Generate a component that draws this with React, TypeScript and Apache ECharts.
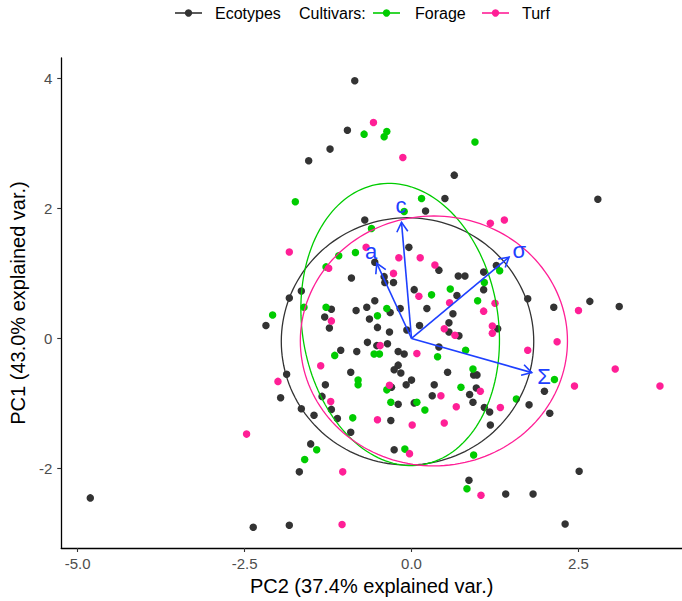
import React, { useEffect, useRef } from "react";
import * as echarts from "echarts";

const FONT = "'Liberation Sans', Arial, sans-serif";

const xTicks = [-5, -2.5, 0, 2.5];
const yTicks = [-2, 0, 2, 4];
const xRange = [-5.245, 4.05];
const yRange = [-3.22, 4.31];

const ecotypes: number[][] = [
  [-0.85, 3.96], [-0.96, 3.2], [-1.22, 2.91], [-1.54, 2.73], [-0.7, 1.82], [-0.9, 0.93], [-1.65, 0.73], [-1.83, 0.62],
  [-1.2, 0.45], [-0.83, 0.43], [-0.67, 0.48], [0.64, 2.51], [2.79, 2.14], [0.5, 2.15], [0.21, 1.96], [-0.04, 1.4],
  [0.41, 1.05], [-0.55, 1.17], [-0.41, 0.95], [-0.4, 0.86], [-0.27, 0.86], [0.7, 0.96], [0.8, 0.96], [1.08, 1.02],
  [1.27, 1.12], [1.08, 0.75], [0.68, 0.66], [0.04, 0.75], [1.74, 0.61], [2.67, 0.57], [3.11, 0.49], [2.13, 0.48],
  [-0.55, 0.58], [-0.17, 0.46], [0.23, 0.46], [-0.32, 0.4], [-0.63, 0.3], [-1.3, 0.33], [-1.23, 0.16], [-2.18, 0.2],
  [-0.66, -0.06], [-1.06, -0.18], [-0.82, -0.2], [-1.87, -0.55], [-1.29, -0.71], [-0.91, -0.52], [-1.96, -0.91],
  [-1.34, -0.89], [-1.65, -1.08], [-1.2, -1.09], [-1.46, -1.18], [-1.11, -1.23], [-0.91, -1.44], [-1.51, -1.62],
  [-1.68, -2.05], [-4.81, -2.45], [-2.37, -2.9], [-1.83, -2.87], [-0.51, 0.17], [-0.33, 0.1], [-0.07, 0.13],
  [0.12, 0.2], [0.56, 0.1], [0.71, 0.04], [-0.52, -0.11], [-0.36, -0.08], [-0.2, -0.2], [-0.11, -0.24], [0.41, -0.13],
  [-0.2, -0.41], [-0.26, -0.48], [-0.16, -0.53], [0.54, -0.52], [0.0, -0.64], [-0.08, -0.71], [-0.3, -0.75],
  [0.34, -0.71], [0.31, -0.88], [-0.2, -1.01], [0.04, -0.99], [-0.31, -1.26], [-0.26, -1.71], [0.62, 0.38],
  [0.56, 0.24], [1.29, 0.15], [0.93, -0.56], [0.98, -0.56], [0.97, -0.76], [0.87, -0.86], [0.92, -0.98], [1.09, -1.06],
  [1.17, -1.13], [1.18, -1.33], [1.76, -1.02], [1.99, -0.81], [2.07, -1.15], [0.86, -2.18], [1.41, -2.39],
  [1.82, -2.39], [2.51, -2.04], [2.3, -2.85],
];

const forage: number[][] = [
  [-0.71, 3.14], [-1.74, 2.1], [-1.09, 1.27], [-0.84, 1.32], [-1.28, 1.1], [-1.61, 0.48], [-1.28, 0.48], [-0.37, 3.18],
  [-0.41, 3.1], [0.95, 3.02], [0.15, 2.15], [-0.11, 1.95], [-0.6, 1.69], [1.32, 1.04], [1.09, 0.86], [0.58, 0.76],
  [0.3, 0.67], [0.99, 0.58], [-0.37, 0.46], [-0.51, 0.35], [-2.08, 0.36], [-1.15, -0.26], [-0.8, -0.64], [-0.8, -0.71],
  [-0.88, -1.22], [-1.42, -1.71], [-1.6, -1.86], [-0.56, -0.24], [-0.48, -0.24], [0.39, -0.28], [0.81, -0.18],
  [-0.37, -0.79], [0.74, -0.75], [-0.31, -0.98], [0.08, -0.98], [0.2, -1.1], [-0.1, -1.7], [0.92, -0.47], [1.57, -0.93],
  [2.14, -0.63], [0.93, -1.79], [0.83, -2.31],
];

const turf: number[][] = [
  [-0.57, 3.32], [-1.83, 1.33], [-0.68, 1.4], [-1.24, 1.08], [-0.13, 2.78], [1.18, 1.77], [1.39, 1.82], [-0.19, 1.24],
  [0.13, 1.24], [0.35, 1.13], [-0.27, 1.0], [0.11, 0.65], [0.57, 0.55], [1.25, 0.54], [2.5, 0.43], [1.08, 0.42],
  [-1.2, 0.27], [-1.36, -0.42], [-2.0, -0.66], [-1.21, -0.97], [-2.47, -1.47], [-1.03, -2.05], [-1.04, -2.86],
  [0.49, 0.15], [0.65, 0.05], [-0.47, -0.11], [0.08, -0.23], [-0.33, -0.72], [0.44, -0.88], [0.67, -1.05],
  [-0.51, -1.25], [0.01, -1.33], [0.49, -1.3], [-0.03, -1.77], [1.21, 0.19], [1.21, 0.08], [1.74, -0.18],
  [2.18, -0.05], [1.03, -0.81], [1.33, -1.06], [2.44, -0.73], [3.05, -0.47], [3.72, -0.73], [1.04, -2.41],
];

const groupNames = ["Ecotypes", "Forage", "Turf"];
const groupColors = ["#333333", "#00CC00", "#FF1F96"];

// ellipse parameters: center, [rx, ry] before rotation, rotation (deg, counter-clockwise)
const ellipseCenters = [[-0.06, -0.045], [-0.17, 0.215], [0.335, -0.038]];
const ellipseRadii = [[1.89, 1.9], [1.47, 2.18], [2.0, 1.92]];
const ellipseAngles = [0, 8, 0];

const arrowNames = ["a", "c", "\u03C3", "\u03A3"];
const arrowTips = [[-0.52, 1.155], [-0.15, 1.785], [1.46, 1.25], [1.8, -0.525]];
const arrowLabelPos = [[-0.606, 1.344], [-0.159, 2.04], [1.612, 1.359], [1.984, -0.587]];
const ARROW_COLOR = "#1E40FF";

export default function App() {
  const ref = useRef<HTMLDivElement>(null);

  useEffect(() => {
    if (!ref.current) return;
    const chart = echarts.init(ref.current, undefined, { renderer: "svg" });

    const scatter = [ecotypes, forage, turf].map((d, i) => ({
      name: groupNames[i],
      type: "scatter",
      data: d,
      symbol: "circle",
      symbolSize: 7.5,
      itemStyle: { color: groupColors[i], opacity: 1 },
      z: 2,
    }));

    const ellipses = {
      type: "custom",
      silent: true,
      clip: false,
      z: 3,
      data: ellipseCenters.map((c, i) => [c[0], c[1], i]),
      encode: { x: 0, y: 1 },
      renderItem: (params: any, api: any) => {
        const i = params.dataIndex;
        const [cx, cy] = ellipseCenters[i];
        const [rx, ry] = ellipseRadii[i];
        const phi = (ellipseAngles[i] * Math.PI) / 180;
        const cs = Math.cos(phi), sn = Math.sin(phi);
        const pts: number[][] = [];
        const N = 160;
        for (let k = 0; k <= N; k++) {
          const t = (2 * Math.PI * k) / N;
          const ex = rx * Math.cos(t);
          const ey = ry * Math.sin(t);
          pts.push(api.coord([cx + ex * cs - ey * sn, cy + ex * sn + ey * cs]));
        }
        return {
          type: "polyline",
          shape: { points: pts },
          style: { stroke: groupColors[i], fill: "none", lineWidth: 1.3 },
        };
      },
    };

    const arrows = {
      type: "custom",
      silent: true,
      clip: false,
      z: 4,
      data: arrowTips.map((t, i) => [t[0], t[1], arrowLabelPos[i][0], arrowLabelPos[i][1]]),
      encode: { x: 0, y: 1 },
      renderItem: (params: any, api: any) => {
        const o = api.coord([0, 0]);
        const tip = api.coord([api.value(0), api.value(1)]);
        const lp = api.coord([api.value(2), api.value(3)]);
        const ang = Math.atan2(tip[1] - o[1], tip[0] - o[0]);
        const L = 11;
        const sp = Math.PI / 6;
        const h1 = [tip[0] - L * Math.cos(ang - sp), tip[1] - L * Math.sin(ang - sp)];
        const h2 = [tip[0] - L * Math.cos(ang + sp), tip[1] - L * Math.sin(ang + sp)];
        return {
          type: "group",
          children: [
            { type: "line", shape: { x1: o[0], y1: o[1], x2: tip[0], y2: tip[1] }, style: { stroke: ARROW_COLOR, lineWidth: 1.6 } },
            { type: "polyline", shape: { points: [h1, tip, h2] }, style: { stroke: ARROW_COLOR, fill: "none", lineWidth: 1.6 } },
            {
              type: "text",
              x: lp[0],
              y: lp[1],
              style: {
                text: arrowNames[params.dataIndex],
                fill: ARROW_COLOR,
                fontSize: 22,
                fontFamily: FONT,
                align: "center",
                verticalAlign: "middle",
              },
            },
          ],
        };
      },
    };

    const legendY = 13;
    const legendItems = [
      { x: 175, tx: 215, label: "Ecotypes", color: groupColors[0] },
      { x: 373, tx: 415, label: "Forage", color: groupColors[1] },
      { x: 482, tx: 522, label: "Turf", color: groupColors[2] },
    ];
    const graphic: any[] = [];
    legendItems.forEach((it) => {
      graphic.push({ type: "line", shape: { x1: it.x, y1: legendY, x2: it.x + 27, y2: legendY }, style: { stroke: it.color, lineWidth: 1.6 } });
      graphic.push({ type: "circle", shape: { cx: it.x + 13.5, cy: legendY, r: 3.7 }, style: { fill: it.color } });
      graphic.push({ type: "text", x: it.tx, y: legendY, style: { text: it.label, fill: "#000", fontSize: 16, fontFamily: FONT, verticalAlign: "middle" } });
    });
    graphic.push({ type: "text", x: 299, y: legendY, style: { text: "Cultivars:", fill: "#000", fontSize: 16, fontFamily: FONT, verticalAlign: "middle" } });

    chart.setOption({
      animation: false,
      grid: { left: 57, top: 58, width: 625, height: 490, containLabel: false },
      graphic,
      xAxis: {
        type: "value",
        min: xRange[0],
        max: xRange[1],
        name: "PC2 (37.4% explained var.)",
        nameLocation: "middle",
        nameGap: 26,
        nameTextStyle: { fontSize: 20, color: "#000", fontFamily: FONT },
        axisLine: { onZero: false, lineStyle: { color: "#000", width: 1.3 } },
        axisTick: { show: true, customValues: xTicks, length: 4, lineStyle: { color: "#333", width: 1.1 } },
        axisLabel: { customValues: xTicks, formatter: (v: number) => v.toFixed(1), color: "#4D4D4D", fontSize: 15, margin: 8, fontFamily: FONT },
        splitLine: { show: false },
      },
      yAxis: {
        type: "value",
        min: yRange[0],
        max: yRange[1],
        name: "PC1 (43.0% explained var.)",
        nameLocation: "middle",
        nameGap: 29,
        nameTextStyle: { fontSize: 20, color: "#000", fontFamily: FONT },
        axisLine: { onZero: false, lineStyle: { color: "#000", width: 1.3 } },
        axisTick: { show: true, customValues: yTicks, length: 4, lineStyle: { color: "#333", width: 1.1 } },
        axisLabel: { customValues: yTicks, formatter: (v: number) => String(v), color: "#4D4D4D", fontSize: 15, margin: 9, fontFamily: FONT },
        splitLine: { show: false },
      },
      series: [...scatter, ellipses, arrows],
    });

    return () => chart.dispose();
  }, []);

  return (
    <div
      ref={ref}
      style={{ position: "absolute", left: 0, top: 0, width: 682, height: 601, background: "#fff" }}
    />
  );
}
